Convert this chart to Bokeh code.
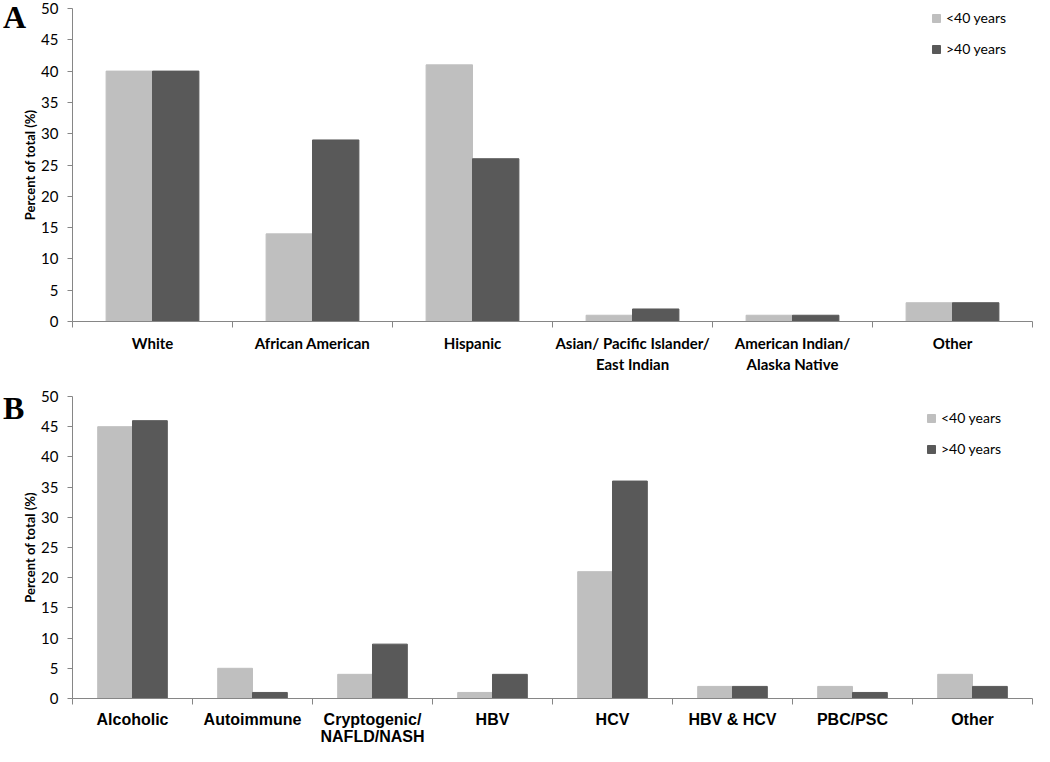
from bokeh.plotting import figure
from bokeh.models import (ColumnDataSource, FixedTicker, Range1d, Legend, LegendItem)
from bokeh.layouts import column
from bokeh.transform import dodge
from bokeh.embed import file_html
from bokeh.resources import INLINE

# ---- data ----
cats_a = ["White", "African American", "Hispanic", "Asian/ Pacific Islander/\nEast Indian",
          "American Indian/\nAlaska Native", "Other"]
under40_a = [40, 14, 41, 1, 1, 3]
over40_a = [40, 29, 26, 2, 1, 3]

cats_b = ["Alcoholic", "Autoimmune", "Cryptogenic/\nNAFLD/NASH", "HBV", "HCV",
          "HBV & HCV", "PBC/PSC", "Other"]
under40_b = [45, 5, 4, 1, 21, 2, 2, 4]
over40_b = [46, 1, 9, 4, 36, 2, 1, 2]

y_ticks = [0, 5, 10, 15, 20, 25, 30, 35, 40, 45, 50]
series_names = ["<40 years", ">40 years"]

LIGHT = "#BFBFBF"
DARK = "#595959"
AXIS = "#868686"
W = 0.29
FIG_W = 1034
AXIS_X = 72      # pixel position of the value axis
AXIS_END = 1032  # pixel position of the last category boundary


def make_panel(cats, s1, s2, height, y0_px, y50_px, letter, letter_xy,
               label_font, label_size, line_height, legend_xy, legend_font):
    n = len(cats)
    ppu_x = (AXIS_END - AXIS_X) / n
    x_start = -AXIS_X / ppu_x
    x_end = n + (FIG_W - AXIS_END) / ppu_x
    ppu_y = (y0_px - y50_px) / 50
    y_end = 50 + y50_px / ppu_y
    y_start = -(height - y0_px) / ppu_y
    src = ColumnDataSource(dict(x=[i + 0.5 for i in range(n)], a=s1, b=s2))
    p = figure(width=FIG_W, height=height, output_backend="svg", toolbar_location=None,
               x_range=Range1d(x_start, x_end), y_range=Range1d(y_start, y_end),
               min_border_left=0, min_border_right=0, min_border_top=0,
               min_border_bottom=0)
    p.outline_line_color = None
    p.grid.visible = False
    r1 = p.vbar(x=dodge("x", -W / 2, range=p.x_range), top="a", width=W, source=src,
                fill_color=LIGHT, line_color=LIGHT)
    r2 = p.vbar(x=dodge("x", W / 2, range=p.x_range), top="b", width=W, source=src,
                fill_color=DARK, line_color=DARK)
    # invisible renderer used only to carry the panel letter
    r0 = p.scatter(x=[0.5], y=[0], size=0, fill_alpha=0, line_alpha=0)

    # y axis, drawn at x = 0
    ya = p.yaxis[0]
    ya.fixed_location = 0
    ya.bounds = (0, 50)
    ya.ticker = FixedTicker(ticks=y_ticks)
    ya.axis_line_color = AXIS
    ya.major_tick_line_color = AXIS
    ya.major_tick_in = 0
    ya.major_tick_out = 5
    ya.minor_tick_line_color = None
    ya.minor_tick_out = 0
    ya.major_label_text_font = "Lato"
    ya.major_label_text_font_size = "15px"
    ya.major_label_text_color = "#000000"
    ya.major_label_standoff = 9
    ya.axis_label = "Percent of total (%)"
    ya.axis_label_text_font = "Lato"
    ya.axis_label_text_font_size = "13px"
    ya.axis_label_text_font_style = "bold"
    ya.axis_label_text_color = "#000000"
    ya.axis_label_standoff = 0

    # x axis at y = 0: labels at centres, tick marks at boundaries
    xa = p.xaxis[0]
    xa.fixed_location = 0
    xa.bounds = (0, n)
    centres = [i + 0.5 for i in range(n)]
    xa.ticker = FixedTicker(ticks=centres, minor_ticks=list(range(n + 1)))
    xa.major_label_overrides = {c: lab for c, lab in zip(centres, cats)}
    xa.major_tick_line_color = None
    xa.major_tick_out = 0
    xa.major_tick_in = 0
    xa.minor_tick_line_color = AXIS
    xa.minor_tick_out = 6
    xa.minor_tick_in = 0
    xa.axis_line_color = AXIS
    xa.major_label_text_font = label_font
    xa.major_label_text_font_size = label_size
    xa.major_label_text_font_style = "bold"
    xa.major_label_text_color = "#000000"
    xa.major_label_text_line_height = line_height
    xa.major_label_standoff = 6

    legend = Legend(items=[LegendItem(label=series_names[0], renderers=[r1]),
                           LegendItem(label=series_names[1], renderers=[r2])],
                    location=legend_xy, orientation="vertical")
    legend.border_line_color = None
    legend.background_fill_alpha = 0
    legend.padding = 0
    legend.margin = 0
    legend.glyph_width = 10
    legend.glyph_height = 10
    legend.label_height = 17
    legend.spacing = 14
    legend.label_standoff = 5
    legend.label_text_font = legend_font
    legend.label_text_font_size = "14px"
    legend.label_text_color = "#000000"
    p.add_layout(legend)

    # panel letter
    lg = Legend(items=[LegendItem(label=letter, renderers=[r0])], location=letter_xy)
    lg.border_line_color = None
    lg.background_fill_alpha = 0
    lg.padding = 0
    lg.margin = 0
    lg.glyph_width = 0
    lg.glyph_height = 30
    lg.label_height = 30
    lg.label_standoff = 0
    lg.label_text_font = "Liberation Serif"
    lg.label_text_font_style = "bold"
    lg.label_text_font_size = "32px"
    lg.label_text_color = "#000000"
    p.add_layout(lg)
    return p


pa = make_panel(cats_a, under40_a, over40_a, height=374, y0_px=321, y50_px=8,
                letter="A", letter_xy=(3, 338), label_font="Lato", label_size="15px",
                line_height=1.2, legend_xy=(931, 317), legend_font="Lato")
pb = make_panel(cats_b, under40_b, over40_b, height=372, y0_px=324, y50_px=22,
                letter="B", letter_xy=(3, 319), label_font="Liberation Sans", label_size="16px",
                line_height=1.0, legend_xy=(926, 289), legend_font="Lato")

layout = column(pa, pb, spacing=0)
open("out.html", "w").write(file_html(layout, INLINE))
